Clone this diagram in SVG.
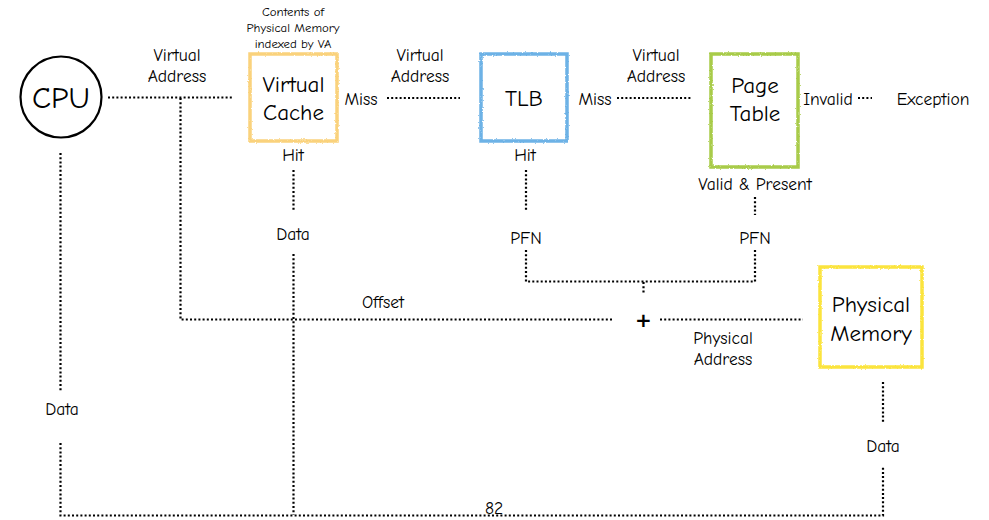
<svg xmlns="http://www.w3.org/2000/svg" width="989" height="520" viewBox="0 0 989 520">
<defs>
<filter id="rough" x="-5%" y="-5%" width="110%" height="110%">
<feTurbulence type="fractalNoise" baseFrequency="0.6" numOctaves="2" seed="3"/>
<feDisplacementMap in="SourceGraphic" scale="2.5"/>
</filter>
<style>
text{font-family:"Comic Neue","Liberation Sans","DejaVu Sans",sans-serif;fill:#000;text-anchor:middle;dominant-baseline:central}
.lbl{font-size:17.5px}
.sm{font-size:12.8px}
.node{font-size:23px}
.dot{fill:none;stroke:#000;stroke-width:2.2;stroke-dasharray:2 2.2}
.box{fill:none;stroke-width:3.5;filter:url(#rough)}
</style>
</defs>
<rect width="989" height="520" fill="#fff"/>

<g id="connectors">
<path class="dot" d="M108 97.5H232"/>
<path class="dot" d="M180.5 98V319.5H612"/>
<path class="dot" d="M387 98H460"/>
<path class="dot" d="M617 98H691"/>
<path class="dot" d="M858 98H872"/>
<path class="dot" d="M293.5 170V210"/>
<path class="dot" d="M293.5 254V515"/>
<path class="dot" d="M526 170V210"/>
<path class="dot" d="M526 250V281.5H755"/>
<path class="dot" d="M755 197V215"/>
<path class="dot" d="M755 250V281.5"/>
<path class="dot" d="M643.5 282V294"/>
<path class="dot" d="M660 319.5H803"/>
<path class="dot" d="M60.5 153V391"/>
<path class="dot" d="M60.5 443V515.5H883V466"/>
<path class="dot" d="M883 382V422"/>
</g>

<g id="cpu">
<circle cx="61" cy="97" r="40.5" fill="none" stroke="#000" stroke-width="2.2"/>
<text x="61" y="98" style="font-size:31px">CPU</text>
</g>

<g id="virtual-cache">
<rect class="box" x="250" y="54" width="87" height="87" stroke="#FAD27C"/>
<text class="node" x="293.5" y="84">Virtual</text>
<text class="node" x="293.5" y="112">Cache</text>
<text class="sm" x="293" y="11">Contents of</text>
<text class="sm" x="293" y="27">Physical Memory</text>
<text class="sm" x="293" y="43">indexed by VA</text>
</g>

<g id="tlb">
<rect class="box" x="481" y="54" width="86" height="87" stroke="#6DB2E6"/>
<text class="node" x="524" y="98">TLB</text>
</g>

<g id="page-table">
<rect class="box" x="711" y="54" width="87" height="113" stroke="#A8CB48"/>
<text class="node" x="755" y="85">Page</text>
<text class="node" x="755" y="113">Table</text>
</g>

<g id="physical-memory">
<rect class="box" x="820" y="267" width="102" height="100" stroke="#FBE43E"/>
<text class="node" x="871" y="304">Physical</text>
<text class="node" x="871" y="333">Memory</text>
</g>

<g id="plus">
<text x="643.5" y="320" style="font-family:'DejaVu Sans',sans-serif;font-size:20px;font-weight:bold">+</text>
</g>

<g id="labels">
<text class="lbl" x="177" y="55">Virtual</text>
<text class="lbl" x="177" y="76">Address</text>
<text class="lbl" x="420" y="55">Virtual</text>
<text class="lbl" x="420" y="76">Address</text>
<text class="lbl" x="656" y="55">Virtual</text>
<text class="lbl" x="656" y="76">Address</text>
<text class="lbl" x="361" y="99">Miss</text>
<text class="lbl" x="595" y="99">Miss</text>
<text class="lbl" x="828" y="99">Invalid</text>
<text class="lbl" x="933" y="99">Exception</text>
<text class="lbl" x="293" y="155">Hit</text>
<text class="lbl" x="525" y="155">Hit</text>
<text class="lbl" x="755" y="184">Valid &amp; Present</text>
<text class="lbl" x="293" y="234">Data</text>
<text class="lbl" x="526" y="238">PFN</text>
<text class="lbl" x="755" y="238">PFN</text>
<text class="lbl" x="383" y="302">Offset</text>
<text class="lbl" x="723" y="338">Physical</text>
<text class="lbl" x="723" y="359">Address</text>
<text class="lbl" x="62" y="409">Data</text>
<text class="lbl" x="883" y="446">Data</text>
<text class="lbl" x="494" y="508">82</text>
</g>
</svg>
